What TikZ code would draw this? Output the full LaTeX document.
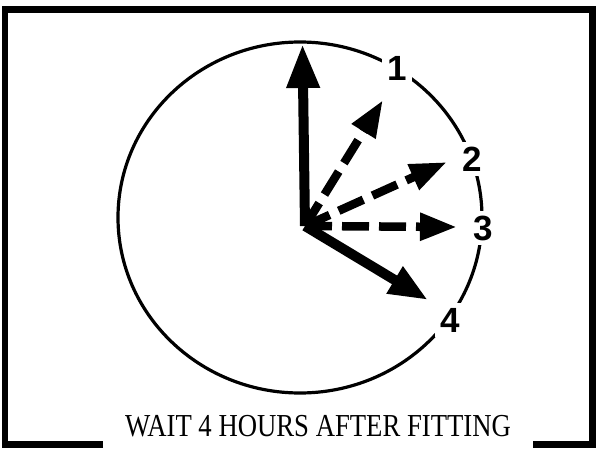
\documentclass[tikz,border=0pt]{standalone}
\usepackage{fontspec}
\setmainfont{Liberation Serif}
\newfontfamily\digitfont{Liberation Sans}
\usetikzlibrary{positioning,arrows.meta}

\begin{document}
\begin{tikzpicture}[
    x=1pt, y=-1pt,
    frame/.style={line width=6.5pt, line cap=butt},
    dial/.style={line width=3.2pt},
    hand/.style={line width=10pt, -{Triangle[length=44pt, width=31pt]}},
    swing/.style={line width=8.5pt, dash pattern=on 27pt off 10pt, -{Triangle[length=37pt, width=26pt]}},
    hourlab/.style={font={\digitfont\bfseries\fontsize{35}{37}\selectfont}, fill=white, inner sep=5pt},
    caption/.style={font={\fontsize{32}{34}\selectfont}, anchor=base, xscale=0.835},
]
\useasboundingbox (0,0) rectangle (598,450);

% Frame (open at the bottom for the caption)
\draw[frame] (103,444.5) -- (5,444.5) -- (5,9.3) -- (592.5,9.3) -- (592.5,444.5) -- (533,444.5);

% Dial
\draw[dial] (300,217.5) ellipse [x radius=182pt, y radius=175.5pt];

% Hour labels (white fill breaks the dial)
\node[hourlab] (h1) at (397,68) {1};
\node[hourlab] (h2) at (472,159) {2};
\node[hourlab] (h3) at (483,228) {3};
\node[hourlab] (h4) at (450,320) {4};

% Hands
\coordinate (pivot) at (305,226);
\coordinate (up) at (302.5,44);
\coordinate (tip1) at (383,100);
\coordinate (tip2) at (447,162);
\coordinate (tip3) at (457,227);
\coordinate (tip4) at (428,300);

\draw[hand] (pivot) -- (up);
\draw[swing] (pivot) -- (tip1);
\draw[swing] (pivot) -- (tip2);
\draw[swing] (pivot) -- (tip3);
\draw[hand, -{Triangle[length=39pt, width=29pt]}] (pivot) -- (tip4);

% Caption
\node[caption] (note) at (318,436) {WAIT 4 HOURS AFTER FITTING};
\end{tikzpicture}
\end{document}
